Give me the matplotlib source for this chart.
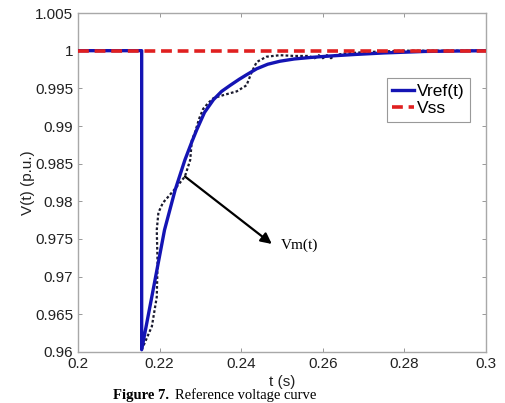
import matplotlib.pyplot as plt
import numpy as np

# reference voltage Vref(t)
t_ref = [0.200, 0.2156, 0.2156, 0.2185, 0.2212, 0.2238, 0.2262, 0.2279, 0.2291,
         0.2310, 0.2332, 0.2352, 0.2373, 0.2395, 0.2413, 0.2438, 0.2465, 0.2495,
         0.2530, 0.2570, 0.2620, 0.2680, 0.2750, 0.2850, 0.3000]
v_ref = [1.000, 1.000, 0.9603, 0.9685, 0.9762, 0.9815, 0.9855, 0.9879, 0.9895,
         0.9918, 0.9935, 0.9946, 0.9954, 0.9962, 0.9968, 0.9976, 0.9982, 0.9986,
         0.9989, 0.9991, 0.9993, 0.9995, 0.9997, 0.9999, 1.0000]

# measured voltage Vm(t), dotted curve
t_m = [0.2156, 0.2165, 0.2181, 0.2193, 0.2195, 0.2193, 0.2197, 0.2208, 0.2221,
       0.2240, 0.2262, 0.2275, 0.2279, 0.2287, 0.2297, 0.2307, 0.2320, 0.2332,
       0.2356, 0.2389, 0.2413, 0.2426, 0.2438, 0.2462, 0.2495, 0.2530, 0.2565,
       0.2580, 0.2590, 0.2600, 0.2610, 0.2620, 0.2630, 0.2650, 0.2700, 0.2800,
       0.3000]
v_m = [0.9603, 0.9614, 0.9634, 0.9673, 0.9718, 0.9762, 0.9785, 0.9798, 0.9806,
       0.9818, 0.9833, 0.9855, 0.9881, 0.9892, 0.9910, 0.9923, 0.9931, 0.9937,
       0.9941, 0.9946, 0.9954, 0.9972, 0.9985, 0.9992, 0.9994, 0.9993, 0.9993,
       0.9990, 0.9994, 0.9990, 0.9994, 0.9990, 0.9994, 0.9996, 0.9998, 1.0000,
       1.0000]

t_ss = [0.2, 0.3]
v_ss = [1.0, 1.0]

xticks = [0.2, 0.22, 0.24, 0.26, 0.28, 0.3]
xticklabels = ['0.2', '0.22', '0.24', '0.26', '0.28', '0.3']
yticks = [0.96, 0.965, 0.97, 0.975, 0.98, 0.985, 0.99, 0.995, 1.0, 1.005]
yticklabels = ['0.96', '0.965', '0.97', '0.975', '0.98', '0.985', '0.99',
               '0.995', '1', '1.005']

plt.rcParams['font.family'] = ['Liberation Sans', 'DejaVu Sans']

fig = plt.figure(figsize=(5.06, 4.03), dpi=100)
ax = fig.add_axes([0.1542, 0.1266, 0.8063, 0.8411])

ax.plot(t_m, v_m, color='#1a1a2e', linestyle=(0, (1.2, 1.0)), linewidth=1.6,
        zorder=2)
ax.plot(t_ref, v_ref, color='#1414b4', linewidth=2.4, label='Vref(t)', zorder=3)
ax.plot(t_ss, v_ss, color='#e02020', linestyle=(0, (3, 1.6)), linewidth=2.6,
        label='Vss', zorder=4)

ax.annotate('', xy=(0.2475, 0.97434), xytext=(0.2262, 0.9833),
            arrowprops=dict(arrowstyle='-|>', color='black', lw=1.6,
                            mutation_scale=16, shrinkA=0, shrinkB=0))
ax.text(0.2497, 0.9742, 'Vm(t)', family='Liberation Serif', fontsize=11,
        va='center', ha='left')

ax.set_xlim(0.2, 0.3)
ax.set_ylim(0.96, 1.005)
ax.set_xticks(xticks)
ax.set_xticklabels(xticklabels)
ax.set_yticks(yticks)
ax.set_yticklabels(yticklabels)
ax.tick_params(direction='in', length=3, width=0.6, color='#888888',
               labelsize=11, labelcolor='#222222', top=True, right=True)
for s in ax.spines.values():
    s.set_color('#a8a8a8')
    s.set_linewidth(1.0)

ax.set_xlabel('t (s)', fontsize=11, labelpad=3, color='#222222')
ax.set_ylabel('V(t) (p.u.)', fontsize=11, labelpad=0, color='#222222')

leg = ax.legend(loc='upper right', bbox_to_anchor=(0.9605, 0.8075), fontsize=12.5,
                handlelength=1.3, handletextpad=0.15, borderpad=0.3,
                labelspacing=0.15, fancybox=False, framealpha=1,
                edgecolor='#999999', borderaxespad=0)
leg.get_frame().set_linewidth(0.8)

fig.text(0.2235, 0.5 / 403, 'Figure 7.', family='Liberation Serif',
         fontweight='bold', fontsize=10.5, va='bottom')
fig.text(0.346, 0.5 / 403, 'Reference voltage curve',
         family='Liberation Serif', fontsize=10.5, va='bottom')

fig.savefig('out.png', dpi=100)
